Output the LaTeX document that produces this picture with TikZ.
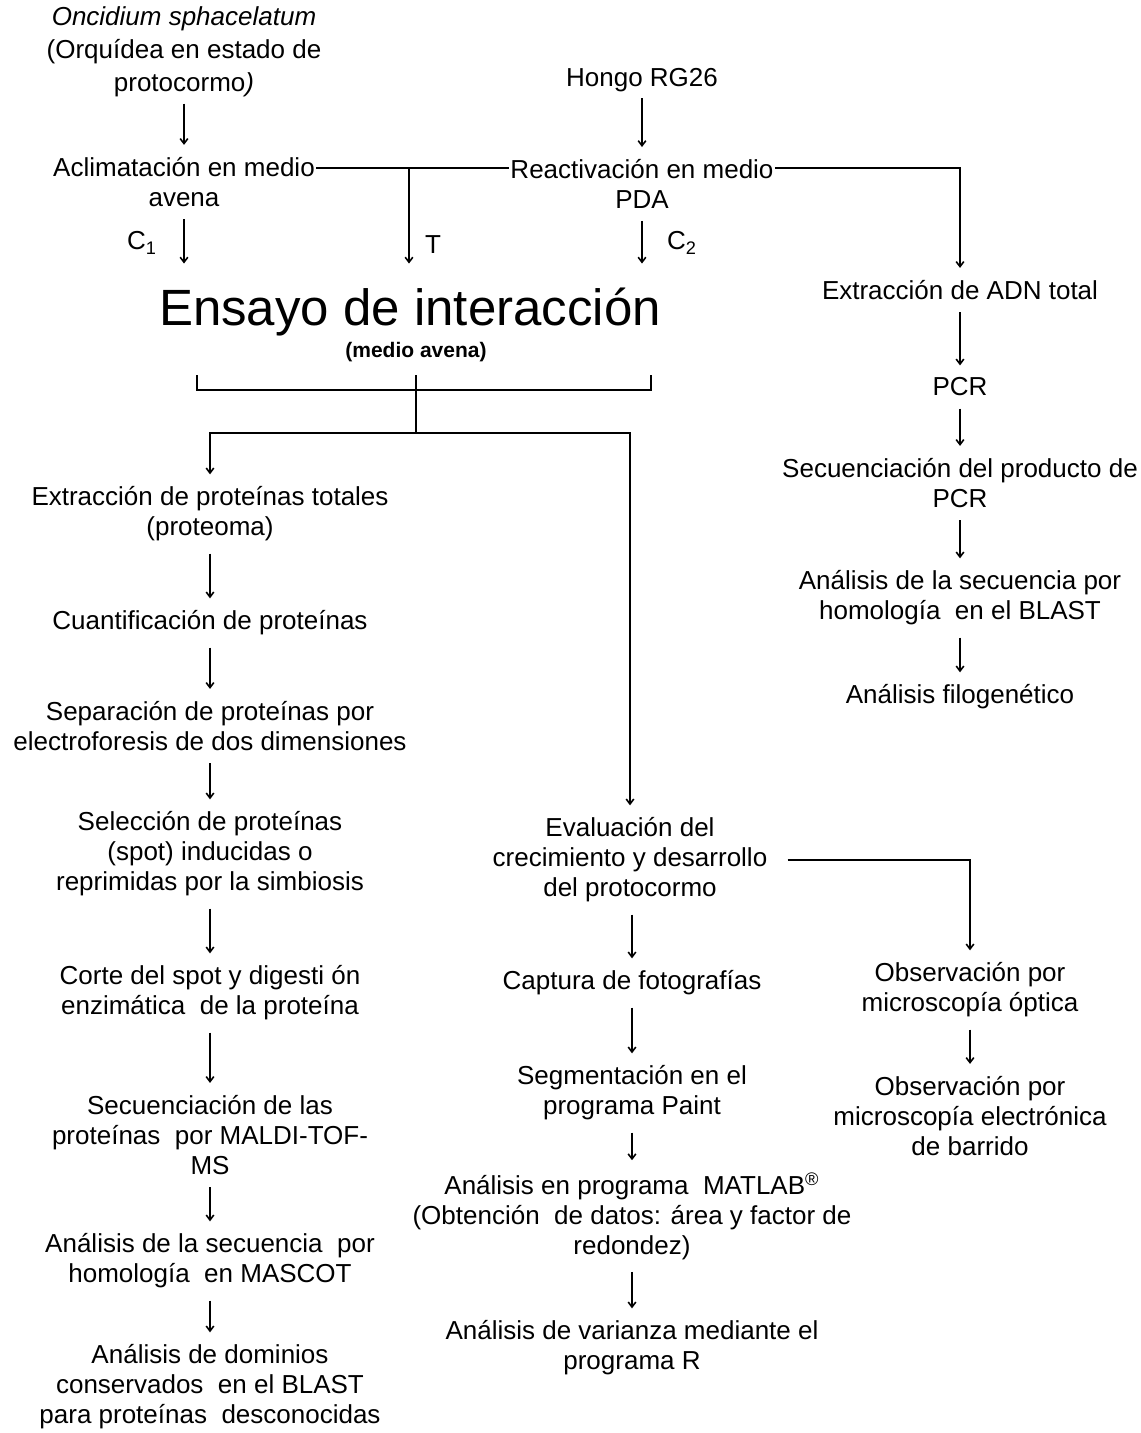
\documentclass[tikz,border=0pt]{standalone}
\usepackage{fontspec}
\setmainfont{Liberation Sans}
\usetikzlibrary{arrows.meta, positioning, calc}

\tikzset{
  paso/.style={align=center, font=\fontsize{13}{15}\selectfont, inner sep=2pt},
  etiq/.style={font=\fontsize{13}{15}\selectfont, inner sep=0pt},
  flecha/.style={-{Straight Barb[length=2.5pt,width=3.8pt]}, line width=0.8pt, shorten <=4pt, shorten >=4pt},
  linea/.style={line width=0.8pt},
}

\begin{document}
\begin{tikzpicture}[x=0.5pt, y=-0.5pt]
\useasboundingbox (0,0) rectangle (1140,1433);

% --- Orchid and fungus ---
\node[paso, font=\fontsize{13}{16.5}\selectfont] (onc) at (184,52) {\textit{Oncidium sphacelatum}\\(Orquídea en estado de\\protocormo\textit{)}};
\node[paso, inner xsep=0.5pt] (acl) at (184,182) {Aclimatación en medio\\avena};
\node[paso] (hongo) at (642,80) {Hongo RG26};
\node[paso, inner xsep=0.5pt] (reac) at (642,184) {Reactivación en medio\\PDA};

\draw[flecha, shorten <=1pt] (onc) -- (acl);
\draw[flecha, shorten <=1pt] (hongo) -- (reac);

% --- Interaction assay ---
\node[inner xsep=0pt, inner ysep=8pt, font=\fontsize{25.5}{28}\selectfont] (ensayo) at (410,312) {Ensayo de interacción};
\node[font=\fontsize{10.5}{12}\selectfont\bfseries, inner sep=1pt] (medio) at (416,352) {(medio avena)};

\coordinate (jT) at (409,168);
\draw[linea] (acl.east |- jT) -- (reac.west |- jT);
\draw[flecha, shorten <=0pt] (jT) -- (jT |- ensayo.north);
\draw[flecha] (acl) -- (acl |- ensayo.north);
\draw[flecha] (reac) -- (reac |- ensayo.north);
\node[etiq] (c1) at (142,243) {C\textsubscript{1}};
\node[etiq] (t) at (433,245) {T};
\node[etiq] (c2) at (682,243) {C\textsubscript{2}};

% bracket under the assay
\coordinate (brl) at (197,375);
\coordinate (brr) at (651,375);
\coordinate (brm) at (416,375);
\coordinate (split) at (416,433);
\draw[linea] (brl) -- ++(0,15) -| (brr);
\draw[linea] (brm) -- (split);

% --- Proteome branch ---
\node[paso] (prot) at (210,514) {Extracción de proteínas totales\\(proteoma)};
\node[paso] (cuant) at (210,623) {Cuantificación de proteínas};
\node[paso] (separ) at (210,726) {Separación de proteínas por\\electroforesis de dos dimensiones};
\node[paso] (selec) at (210,854) {Selección de proteínas\\(spot) inducidas o\\reprimidas por la simbiosis};
\node[paso] (corte) at (210,993) {Corte del spot y digesti ón\\enzimática\ \ de la proteína};
\node[paso] (maldi) at (210,1135) {Secuenciación de las\\proteínas\ \ por MALDI-TOF-\\MS};
\node[paso] (mascot) at (210,1261) {Análisis de la secuencia\ \ por\\homología\ \ en MASCOT};
\node[paso] (domin) at (210,1387) {Análisis de dominios\\conservados\ \ en el BLAST\\para proteínas\ \ desconocidas};

\draw[flecha, shorten <=0pt] (split) -| (prot);
\draw[flecha] (prot) -- (cuant);
\draw[flecha] (cuant) -- (separ);
\draw[flecha] (separ) -- (selec);
\draw[flecha] (selec) -- (corte);
\draw[flecha] (corte) -- (maldi);
\draw[flecha] (maldi) -- (mascot);
\draw[flecha] (mascot) -- (domin);

% --- Growth branch ---
\node[paso] (eval) at (630,860) {Evaluación del\\crecimiento y desarrollo\\del protocormo};
\node[paso] (foto) at (632,983) {Captura de fotografías};
\node[paso] (paint) at (632,1093) {Segmentación en el\\programa Paint};
\node[paso] (matlab) at (632,1216) {Análisis en programa\ \ MATLAB\textsuperscript{®}\\(Obtención\ \ de datos: área y factor de\\redondez)};
\node[paso] (varz) at (632,1348) {Análisis de varianza mediante el\\programa R};

\draw[flecha, shorten <=0pt] (split) -| (eval);
\draw[flecha] (eval.south -| foto) -- (foto);
\draw[flecha] (foto) -- (paint);
\draw[flecha] (paint) -- (matlab);
\draw[flecha] (matlab) -- (varz);

% microscopy
\node[paso] (micro1) at (970,990) {Observación por\\microscopía óptica};
\node[paso] (micro2) at (970,1116) {Observación por\\microscopía electrónica\\de barrido};

\draw[flecha, shorten <=8pt] (eval.east) -| (micro1);
\draw[flecha] (micro1) -- (micro2);

% --- Molecular identification of the fungus ---
\node[paso] (adn) at (960,290) {Extracción de ADN total};
\node[paso] (pcr) at (960,387) {PCR};
\node[paso] (secpcr) at (960,483) {Secuenciación del producto de\\PCR};
\node[paso] (blast) at (960,598) {Análisis de la secuencia por\\homología\ \ en el BLAST};
\node[paso] (filo) at (960,697) {Análisis filogenético};

\draw[flecha, shorten <=0pt] (reac.east |- jT) -| (adn);
\draw[flecha] (adn) -- (pcr);
\draw[flecha] (pcr) -- (secpcr);
\draw[flecha] (secpcr) -- (blast);
\draw[flecha] (blast) -- (filo);

\end{tikzpicture}
\end{document}
